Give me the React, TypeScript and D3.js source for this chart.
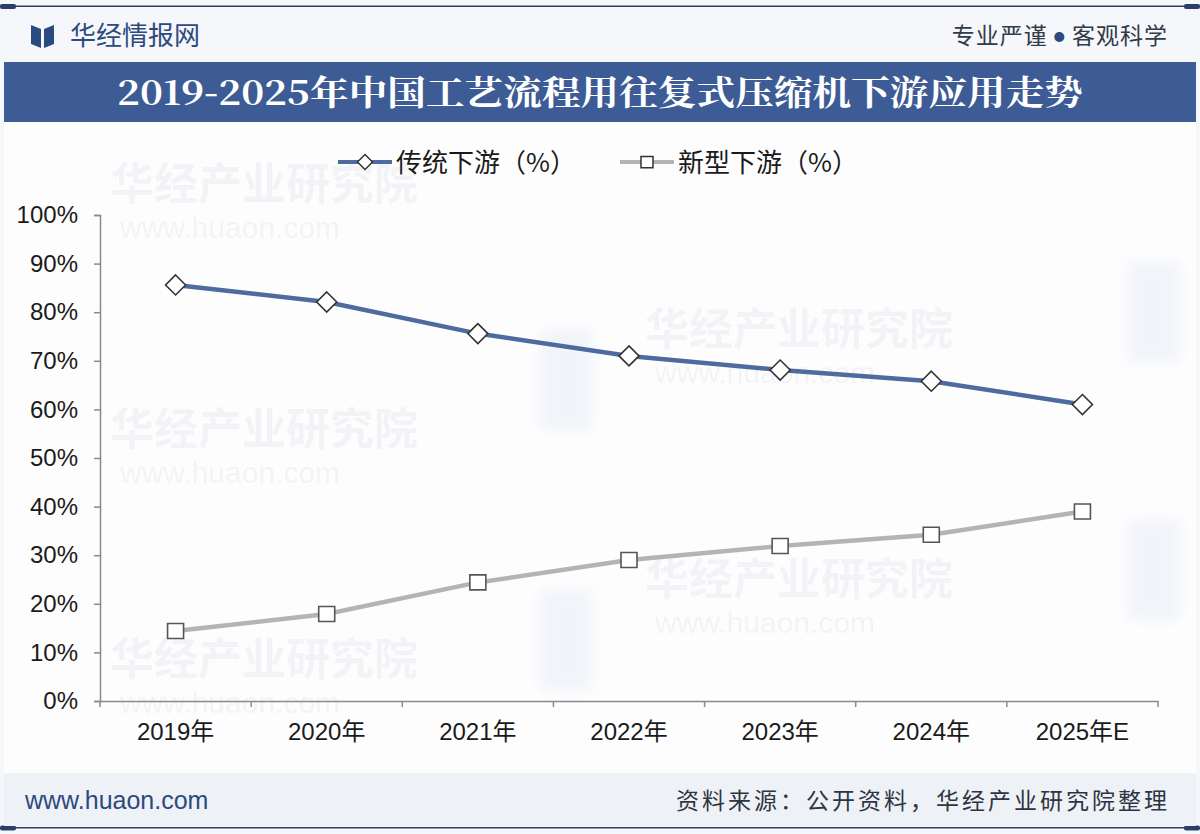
import { useEffect, useRef } from 'react';
import * as d3 from "d3";

// chart data
const years = ["2019年", "2020年", "2021年", "2022年", "2023年", "2024年", "2025年E"];
const traditional = [85.6, 82.1, 75.6, 71.0, 68.1, 65.8, 61.0];
const newType = [14.4, 17.9, 24.4, 29.0, 31.9, 34.2, 39.0];
const yTicks = [0, 10, 20, 30, 40, 50, 60, 70, 80, 90, 100];
const seriesNames = ["传统下游（%）", "新型下游（%）"];

const cjk = "'Noto Sans CJK SC', sans-serif";
const latin = "'Liberation Sans', Arial, 'Noto Sans CJK SC', sans-serif";

export default function App() {
  const chartRef = useRef<SVGSVGElement>(null);

  useEffect(() => {
    if (!chartRef.current) return;
    document.body.style.margin = "0";

    const svg = d3.select(chartRef.current);
    svg.selectAll("*").remove();

    const width = 1200;
    const height = 834;
    const marginLeft = 100;
    const marginRight = 42;
    const plotTop = 215;
    const plotBottom = 701;

    svg.attr("viewBox", [0, 0, width, height])
      .attr("width", width)
      .attr("height", height);

    // soft blur for the background logo blocks
    const defs = svg.append("defs");
    defs.append("filter").attr("id", "soft")
      .append("feGaussianBlur").attr("stdDeviation", 6);

    // page background
    svg.append("rect").attr("width", width).attr("height", height).attr("fill", "#f5f7fb");
    svg.append("rect").attr("x", 4).attr("y", 122).attr("width", width - 8).attr("height", 651).attr("fill", "#fdfdfe");

    // faint watermarks (logo blocks + text)
    const blocks = [[540, 330], [1128, 262], [540, 590], [1128, 520]];
    svg.append("g").attr("opacity", 0.05).attr("filter", "url(#soft)")
      .selectAll("rect").data(blocks).join("rect")
      .attr("x", d => d[0]).attr("y", d => d[1]).attr("width", 52).attr("height", 100)
      .attr("fill", "#2c5aa8");
    const marks = [[110, 200], [110, 445], [110, 675], [645, 345], [645, 595]];
    const wm = svg.append("g").attr("opacity", 0.045);
    marks.forEach(([mx, my]) => {
      wm.append("text").attr("x", mx).attr("y", my)
        .attr("font-family", cjk).attr("font-weight", "bold").attr("font-size", 44)
        .attr("fill", "#203a6a").text("华经产业研究院");
      wm.append("text").attr("x", mx + 10).attr("y", my + 38)
        .attr("font-family", latin).attr("font-size", 30)
        .attr("fill", "#203a6a").text("www.huaon.com");
    });

    // top and bottom rules
    const rule = svg.append("g").attr("fill", "#2c3f66");
    rule.append("rect").attr("x", 0).attr("y", 5.5).attr("width", width).attr("height", 1.5);
    rule.append("rect").attr("x", 0).attr("y", 4).attr("width", 16).attr("height", 5).attr("rx", 2);
    rule.append("rect").attr("x", width - 16).attr("y", 4).attr("width", 16).attr("height", 5).attr("rx", 2);
    rule.append("rect").attr("x", 0).attr("y", 827).attr("width", width).attr("height", 1.5);
    rule.append("rect").attr("x", 0).attr("y", 825.5).attr("width", 16).attr("height", 5).attr("rx", 2);
    rule.append("rect").attr("x", width - 16).attr("y", 825.5).attr("width", 16).attr("height", 5).attr("rx", 2);

    // header logo + brand
    const logo = svg.append("g").attr("fill", "#2c4a82");
    logo.append("path").attr("d", "M31,25 L41,29 L41,48 L31,44 Z");
    logo.append("path").attr("d", "M44,29 L54,25 L54,44 L44,48 Z");
    svg.append("text").attr("x", 70).attr("y", 45)
      .attr("font-family", cjk).attr("font-size", 26).attr("fill", "#2c4a7e")
      .text("华经情报网");
    const slogan = svg.append("text").attr("x", 1168).attr("y", 44).attr("text-anchor", "end")
      .attr("font-family", cjk).attr("font-size", 23).attr("fill", "#333a48")
      .attr("letter-spacing", 1);
    slogan.append("tspan").text("专业严谨 ");
    slogan.append("tspan").attr("font-size", 11).attr("fill", "#2c4a82").attr("dy", -3).text("●");
    slogan.append("tspan").attr("dy", 3).text(" 客观科学");

    // title band
    svg.append("rect").attr("x", 4).attr("y", 62).attr("width", width - 8).attr("height", 60).attr("fill", "#3d5b94");
    svg.append("text").attr("x", 117).attr("y", 105)
      .attr("font-family", "'Noto Serif CJK SC', 'Noto Sans CJK SC', serif")
      .attr("font-weight", "bold").attr("font-size", 34).attr("fill", "#ffffff")
      .attr("textLength", 966).attr("lengthAdjust", "spacingAndGlyphs")
      .text("2019-2025年中国工艺流程用往复式压缩机下游应用走势");

    // scales
    const x = d3.scaleBand().domain(years).range([marginLeft, width - marginRight]);
    const y = d3.scaleLinear().domain([0, 100]).range([plotBottom, plotTop]);
    const cx = (d: string) => (x(d) || 0) + x.bandwidth() / 2;

    // y axis
    const yAxis = svg.append("g")
      .attr("transform", `translate(${marginLeft},0)`)
      .call(d3.axisLeft(y).tickValues(yTicks).tickSize(6).tickPadding(16).tickFormat(d => `${d}%`));
    yAxis.select(".domain").attr("stroke", "#8a8a8a").attr("stroke-width", 1.5);
    yAxis.selectAll(".tick line").attr("stroke", "#8a8a8a").attr("stroke-width", 1.5);
    yAxis.selectAll("text").attr("font-family", latin).attr("font-size", 24).attr("fill", "#1a1a1a");

    // x axis
    const xAxis = svg.append("g")
      .attr("transform", `translate(0,${plotBottom})`)
      .call(d3.axisBottom(x).tickSize(0).tickPadding(22));
    xAxis.select(".domain").attr("stroke", "#8a8a8a").attr("stroke-width", 1.5);
    xAxis.selectAll("text").attr("font-family", latin).attr("font-size", 24).attr("fill", "#1a1a1a");
    const bounds = years.map(d => x(d) || 0).concat([width - marginRight]);
    xAxis.selectAll(".bound").data(bounds).join("line")
      .attr("x1", d => d).attr("x2", d => d).attr("y1", 0).attr("y2", 6)
      .attr("stroke", "#8a8a8a").attr("stroke-width", 1.5);

    // lines
    const line = d3.line<number>()
      .x((_, i) => cx(years[i]))
      .y(d => y(d));

    svg.append("path").datum(newType)
      .attr("d", line).attr("fill", "none")
      .attr("stroke", "#b4b4b4").attr("stroke-width", 4.5);
    svg.append("path").datum(traditional)
      .attr("d", line).attr("fill", "none")
      .attr("stroke", "#4d6b9e").attr("stroke-width", 4.5);

    const diamond = "M0,-10 L10,0 L0,10 L-10,0 Z";
    const square = "M-8,-7.5 L8,-7.5 L8,7.5 L-8,7.5 Z";

    svg.append("g").selectAll("path").data(traditional).join("path")
      .attr("d", diamond)
      .attr("transform", (d, i) => `translate(${cx(years[i])},${y(d)})`)
      .attr("fill", "#ffffff").attr("stroke", "#333333").attr("stroke-width", 1.6);
    svg.append("g").selectAll("path").data(newType).join("path")
      .attr("d", square)
      .attr("transform", (d, i) => `translate(${cx(years[i])},${y(d)})`)
      .attr("fill", "#ffffff").attr("stroke", "#555555").attr("stroke-width", 1.6);

    // legend
    const legend = [
      { name: seriesNames[0], x: 338, color: "#4d6b9e", shape: diamond },
      { name: seriesNames[1], x: 620, color: "#b4b4b4", shape: square },
    ];
    const lg = svg.append("g").selectAll("g").data(legend).join("g")
      .attr("transform", d => `translate(${d.x},162)`);
    lg.append("line").attr("x1", 0).attr("x2", 54).attr("y1", 0).attr("y2", 0)
      .attr("stroke", d => d.color).attr("stroke-width", 4);
    lg.append("path").attr("d", d => d.shape)
      .attr("transform", "translate(27,0) scale(0.75)")
      .attr("fill", "#ffffff").attr("stroke", "#333333").attr("stroke-width", 2);
    lg.append("text").attr("x", 58).attr("y", 9.5)
      .attr("font-family", cjk).attr("font-size", 26).attr("fill", "#1a1a1a")
      .text(d => d.name);

    // footer band
    svg.append("rect").attr("x", 4).attr("y", 773).attr("width", width - 8).attr("height", 53).attr("fill", "#eef1f6");
    svg.append("text").attr("x", 25).attr("y", 809)
      .attr("font-family", latin).attr("font-size", 25).attr("fill", "#2c4a7e")
      .text("www.huaon.com");
    svg.append("text").attr("x", 1170).attr("y", 809).attr("text-anchor", "end")
      .attr("font-family", cjk).attr("font-size", 23).attr("fill", "#2d3442")
      .attr("letter-spacing", 3)
      .text("资料来源：公开资料，华经产业研究院整理");
  }, []);

  return (
    <div style={{ position: "absolute", left: 0, top: 0 }}>
      <svg ref={chartRef}></svg>
    </div>
  );
}
